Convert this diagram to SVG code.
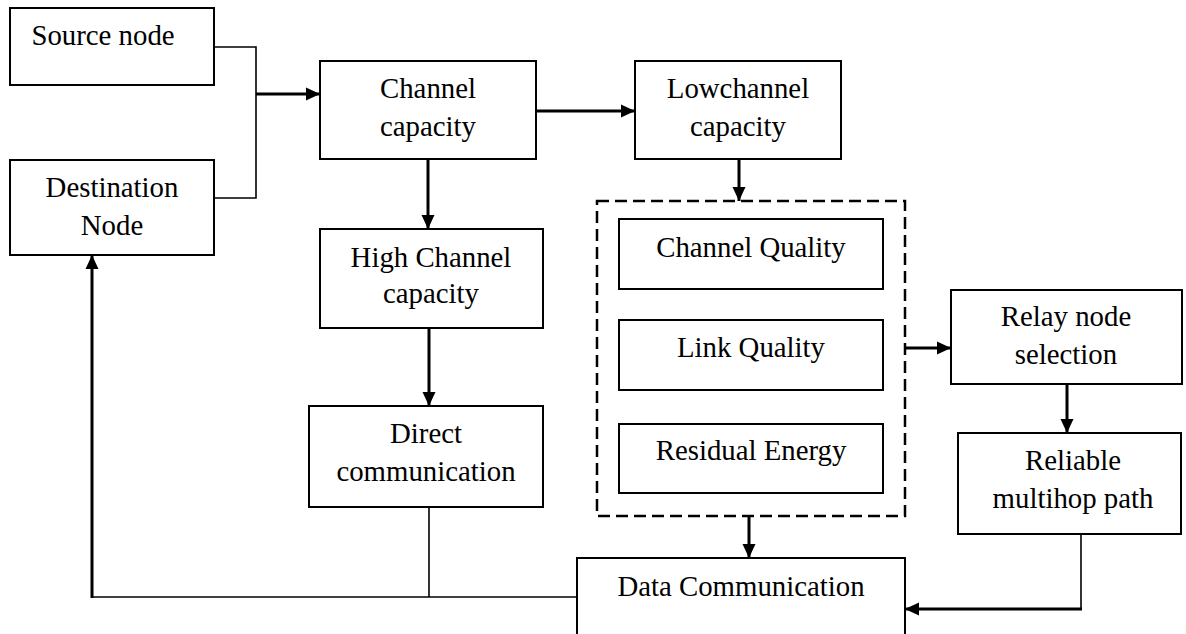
<svg xmlns="http://www.w3.org/2000/svg" width="1186" height="634" viewBox="0 0 1186 634">
  <style>
    .box { fill: #ffffff; stroke: #000000; stroke-width: 2; }
    .group { fill: none; stroke: #000000; stroke-width: 2.5; stroke-dasharray: 12 6; }
    .label { font-family: "Liberation Serif", "Times New Roman", Times, serif; font-size: 28.8px; fill: #000000; text-anchor: middle; }
    .thick { fill: none; stroke: #000000; stroke-width: 3; }
    .thin { fill: none; stroke: #000000; stroke-width: 1.6; }
  </style>
  <defs>
    <marker id="arrow" markerUnits="userSpaceOnUse" markerWidth="16" markerHeight="16" refX="14" refY="8" orient="auto">
      <path d="M0,1.5 L14,8 L0,14.5 Z" fill="#000000"/>
    </marker>
  </defs>

  <rect width="1186" height="634" fill="#ffffff"/>

  <!-- connectors -->
  <g id="connectors">
    <polyline class="thin" points="214,47 256,47 256,198 214,198"/>
    <line class="thick" x1="256" y1="94" x2="320" y2="94" marker-end="url(#arrow)"/>
    <line class="thick" x1="536" y1="111" x2="635" y2="111" marker-end="url(#arrow)"/>
    <line class="thick" x1="428" y1="159" x2="428" y2="229" marker-end="url(#arrow)"/>
    <line class="thick" x1="429" y1="328" x2="429" y2="406" marker-end="url(#arrow)"/>
    <line class="thick" x1="739" y1="159" x2="739" y2="201" marker-end="url(#arrow)"/>
    <line class="thick" x1="749" y1="516" x2="749" y2="558" marker-end="url(#arrow)"/>
    <line class="thick" x1="905" y1="348" x2="951" y2="348" marker-end="url(#arrow)"/>
    <line class="thick" x1="1067" y1="384" x2="1067" y2="433" marker-end="url(#arrow)"/>
    <line class="thin" x1="1081" y1="534" x2="1081" y2="609"/>
    <line class="thick" x1="1082" y1="609" x2="905" y2="609" marker-end="url(#arrow)"/>
    <line class="thin" x1="429" y1="507" x2="429" y2="597"/>
    <line class="thin" x1="577" y1="597" x2="92" y2="597"/>
    <line class="thick" x1="92" y1="598" x2="92" y2="255" marker-end="url(#arrow)"/>
  </g>

  <!-- nodes -->
  <g id="source-node">
    <rect class="box" x="10" y="8" width="204" height="77"/>
    <text class="label" x="103" y="45">Source node</text>
  </g>
  <g id="destination-node">
    <rect class="box" x="10" y="160" width="204" height="95"/>
    <text class="label" x="112" y="197">Destination</text>
    <text class="label" x="112" y="235">Node</text>
  </g>
  <g id="channel-capacity">
    <rect class="box" x="320" y="61" width="216" height="98"/>
    <text class="label" x="428" y="98">Channel</text>
    <text class="label" x="428" y="136">capacity</text>
  </g>
  <g id="lowchannel-capacity">
    <rect class="box" x="635" y="61" width="206" height="98"/>
    <text class="label" x="738" y="98">Lowchannel</text>
    <text class="label" x="738" y="136">capacity</text>
  </g>
  <g id="high-channel-capacity">
    <rect class="box" x="320" y="229" width="223" height="99"/>
    <text class="label" x="431" y="267">High Channel</text>
    <text class="label" x="431" y="303">capacity</text>
  </g>
  <g id="direct-communication">
    <rect class="box" x="309" y="406" width="234" height="101"/>
    <text class="label" x="426" y="443">Direct</text>
    <text class="label" x="426" y="481">communication</text>
  </g>
  <g id="quality-metrics">
    <rect class="group" x="597" y="201" width="308" height="315"/>
    <g id="channel-quality">
      <rect class="box" x="619" y="219" width="264" height="70"/>
      <text class="label" x="751" y="257">Channel Quality</text>
    </g>
    <g id="link-quality">
      <rect class="box" x="619" y="320" width="264" height="70"/>
      <text class="label" x="751" y="357">Link Quality</text>
    </g>
    <g id="residual-energy">
      <rect class="box" x="619" y="424" width="264" height="69"/>
      <text class="label" x="751" y="460">Residual Energy</text>
    </g>
  </g>
  <g id="relay-node-selection">
    <rect class="box" x="951" y="290" width="231" height="94"/>
    <text class="label" x="1066" y="326">Relay node</text>
    <text class="label" x="1066" y="364">selection</text>
  </g>
  <g id="reliable-multihop-path">
    <rect class="box" x="958" y="433" width="223" height="101"/>
    <text class="label" x="1073" y="470">Reliable</text>
    <text class="label" x="1073" y="508">multihop path</text>
  </g>
  <g id="data-communication">
    <rect class="box" x="577" y="558" width="328" height="90"/>
    <text class="label" x="741" y="596">Data Communication</text>
  </g>
</svg>
